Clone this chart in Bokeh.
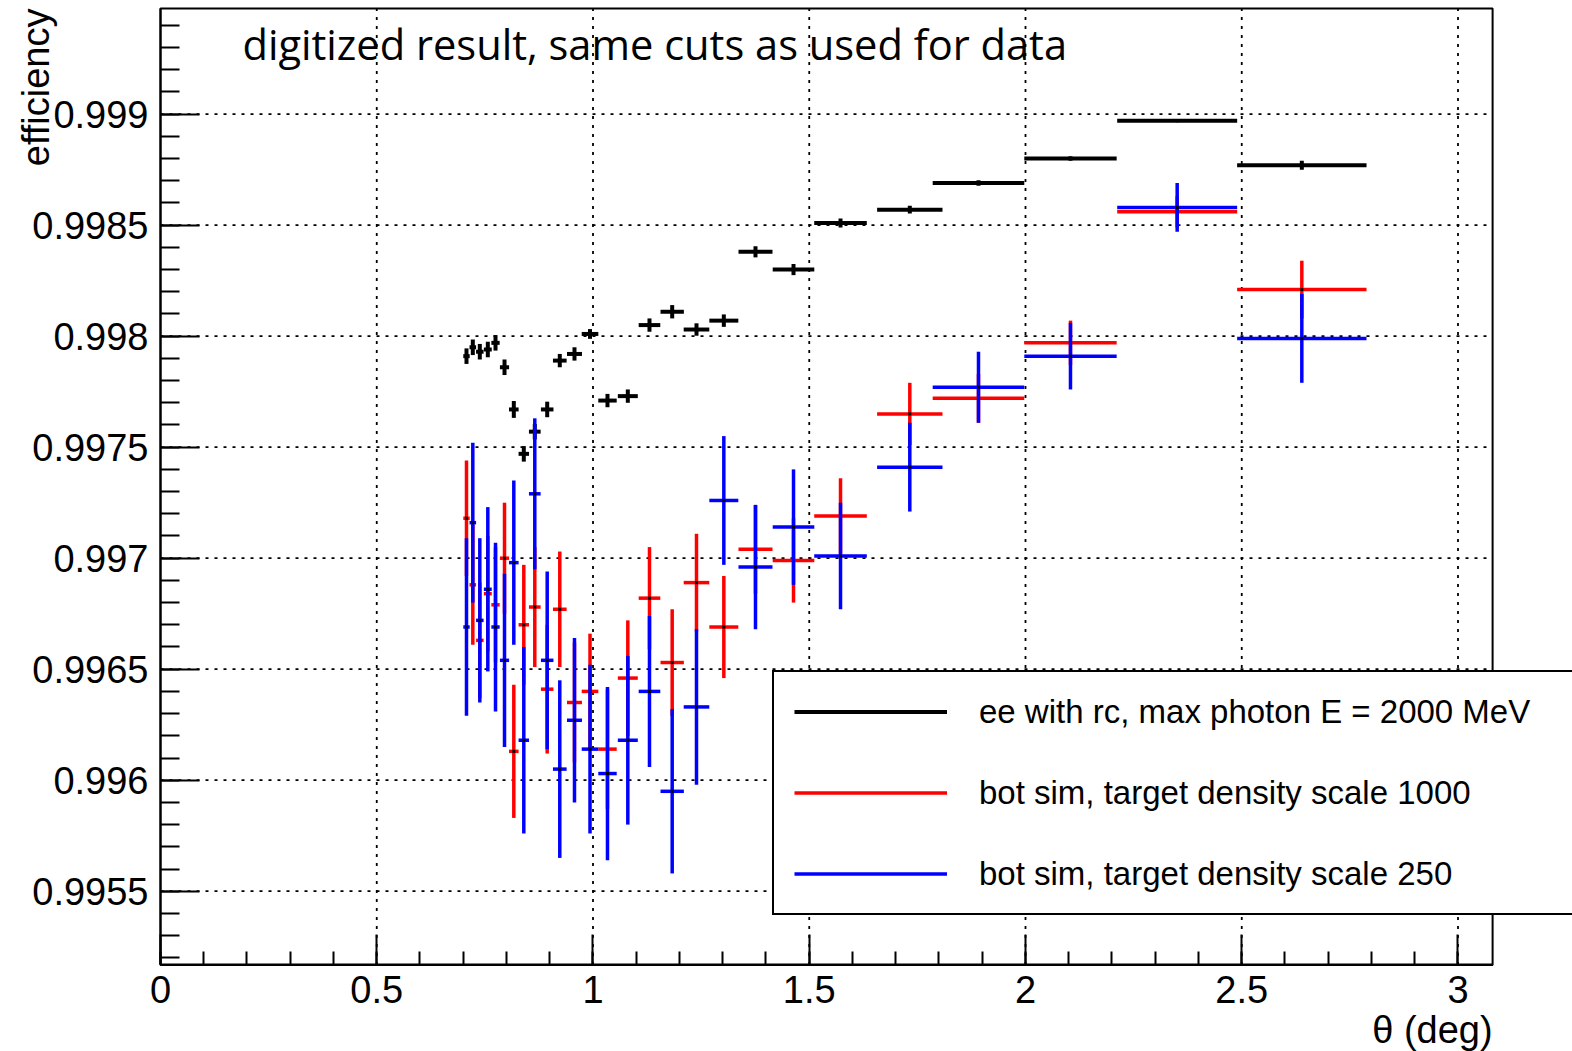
import numpy as np
from bokeh.plotting import figure
from bokeh.models import (ColumnDataSource, Range1d, FixedTicker, Label, Legend, LegendItem,
                          BoxAnnotation)
from bokeh.embed import file_html
from bokeh.resources import INLINE

# ---- data ----
theta = [0.7075, 0.7221, 0.7383, 0.7568, 0.7746, 0.7954, 0.8169, 0.8400, 0.8654,
         0.8941, 0.9232, 0.9572, 0.9931, 1.0335, 1.0805, 1.1306, 1.1831, 1.2393,
         1.3025, 1.3757, 1.4636, 1.5723, 1.7325, 1.8913, 2.1040, 2.3507, 2.6389]
theta_halfwidth = [0.0074, 0.0076, 0.0087, 0.0091, 0.0096, 0.0106, 0.0111, 0.0121, 0.0135,
                   0.0145, 0.0158, 0.0173, 0.0192, 0.0213, 0.0231, 0.0250, 0.0270, 0.0296,
                   0.0335, 0.0393, 0.0481, 0.0608, 0.0756, 0.1059, 0.1068, 0.1387, 0.1496]

eff_ee = [0.99791, 0.99795, 0.99793, 0.99794, 0.99797, 0.99786, 0.99767, 0.99747, 0.99757,
          0.99767, 0.99789, 0.99792, 0.99801, 0.99771, 0.99773, 0.99805, 0.99811, 0.99803,
          0.99807, 0.99838, 0.99830, 0.99851, 0.99857, 0.99869, 0.99880, 0.99897, 0.99877]
err_ee = [0.000035, 0.000035, 0.000035, 0.000035, 0.000035, 0.000035, 0.000038, 0.000035, 0.000035,
          0.000035, 0.000030, 0.000030, 0.000022, 0.000030, 0.000030, 0.000030, 0.000030, 0.000028,
          0.000028, 0.000025, 0.000025, 0.000020, 0.000017, 0.000012, 0.000010, 0.000005, 0.000020]

eff_red = [0.99718, 0.99688, 0.99663, 0.99684, 0.99679, 0.99700, 0.99613, 0.99670, 0.99678,
           0.99641, 0.99677, 0.99635, 0.99640, 0.99614, 0.99646, 0.99682, 0.99653, 0.99689,
           0.99669, 0.99704, 0.99699, 0.99719, 0.99765, 0.99772, 0.99797, 0.99856, 0.99821]
err_red = [0.00026, 0.00027, 0.00026, 0.00026, 0.00026, 0.00025, 0.00030, 0.00027, 0.00027,
           0.00029, 0.00026, 0.00027, 0.00026, 0.00027, 0.00026, 0.00023, 0.00024, 0.00022,
           0.00023, 0.00020, 0.00019, 0.00017, 0.00014, 0.00011, 0.00010, 0.00007, 0.00013]

eff_blue = [0.99669, 0.99716, 0.99672, 0.99686, 0.99669, 0.99654, 0.99698, 0.99618, 0.99729,
            0.99654, 0.99605, 0.99627, 0.99614, 0.99603, 0.99618, 0.99640, 0.99595, 0.99633,
            0.99726, 0.99696, 0.99714, 0.99701, 0.99741, 0.99777, 0.99791, 0.99858, 0.99799]
err_blue = [0.00040, 0.00036, 0.00037, 0.00037, 0.00038, 0.00039, 0.00037, 0.00042, 0.00034,
            0.00040, 0.00040, 0.00037, 0.00038, 0.00039, 0.00038, 0.00034, 0.00037, 0.00035,
            0.00029, 0.00028, 0.00026, 0.00024, 0.00020, 0.00016, 0.00015, 0.00011, 0.00020]

series_labels = ["ee with rc, max photon E = 2000 MeV",
                 "bot sim, target density scale 1000",
                 "bot sim, target density scale 250"]
series_colors = ["black", "#ff0000", "#0000ff"]

x_ticks = [0, 0.5, 1, 1.5, 2, 2.5, 3]
x_tick_labels = ["0", "0.5", "1", "1.5", "2", "2.5", "3"]
y_ticks = [0.9955, 0.996, 0.9965, 0.997, 0.9975, 0.998, 0.9985, 0.999]
y_tick_labels = ["0.9955", "0.996", "0.9965", "0.997", "0.9975", "0.998", "0.9985", "0.999"]

annotation_text = "digitized result, same cuts as used for data"
x_title = "\u03b8 (deg)"
y_title = "efficiency"

# ---- geometry: the frame covers the whole canvas, the plot box is drawn inside ----
W, H = 1572, 1051
VX0, VX1 = -0.36994, 3.26474          # visible x extent (canvas edges)
VY0, VY1 = 0.994778, 0.999512         # visible y extent (canvas edges)
FX0, FX1 = 0.0, 3.08                  # plot box x
FY0, FY1 = 0.995168, 0.999476         # plot box y

p = figure(width=W, height=H, output_backend="svg", toolbar_location=None,
           x_range=Range1d(VX0, VX1), y_range=Range1d(VY0, VY1),
           min_border_left=0, min_border_right=0, min_border_top=0, min_border_bottom=0)
p.background_fill_color = "white"
p.border_fill_color = "white"
p.outline_line_color = None
p.xgrid.visible = False
p.ygrid.visible = False

FONT = "Liberation Sans"

xminor = list(np.round(np.arange(0.0, 3.081, 0.1), 3))
yminor = list(np.round(np.arange(0.9952, 0.99949, 0.0001), 5))
p.xaxis.ticker = FixedTicker(ticks=x_ticks, minor_ticks=xminor)
p.yaxis.ticker = FixedTicker(ticks=y_ticks, minor_ticks=yminor)
p.xaxis.major_label_overrides = {t: l for t, l in zip(x_ticks, x_tick_labels)}
p.yaxis.major_label_overrides = {t: l for t, l in zip(y_ticks, y_tick_labels)}
p.xaxis.fixed_location = FY0
p.yaxis.fixed_location = FX0
p.xaxis.bounds = (FX0, FX1)
p.yaxis.bounds = (FY0, FY1)

for ax in (p.xaxis[0], p.yaxis[0]):
    ax.axis_line_width = 2
    ax.axis_line_color = "black"
    ax.major_tick_line_width = 2
    ax.minor_tick_line_width = 2
    ax.major_tick_line_color = "black"
    ax.minor_tick_line_color = "black"
    ax.major_tick_out = 0
    ax.minor_tick_out = 0
    ax.major_label_text_font = FONT
    ax.major_label_text_font_size = "38px"
    ax.major_label_text_color = "black"

p.yaxis.major_tick_in = 39
p.yaxis.minor_tick_in = 19
p.yaxis.major_label_standoff = 12
p.xaxis.major_tick_in = 30
p.xaxis.minor_tick_in = 13
p.xaxis.major_label_standoff = 11

# ---- dotted grid at the major ticks, inside the plot box ----
gx = [t for t in x_ticks if t > FX0]
p.segment(x0=gx, y0=[FY0] * len(gx), x1=gx, y1=[FY1] * len(gx),
          line_color="black", line_width=1.8, line_dash="3 6")
p.segment(x0=[FX0] * len(y_ticks), y0=y_ticks, x1=[FX1] * len(y_ticks), y1=y_ticks,
          line_color="black", line_width=1.8, line_dash="3 6")

# plot box (top / right borders)
p.add_layout(BoxAnnotation(left=FX0, right=FX1, bottom=FY0, top=FY1,
                           fill_alpha=0.0, fill_color=None,
                           line_color="black", line_alpha=1.0, line_width=2,
                           level="underlay"))

# ---- series ----
def make_source(y, e):
    x = np.array(theta)
    hw = np.array(theta_halfwidth)
    y = np.array(y)
    e = np.array(e)
    return ColumnDataSource(dict(x=x, y=y, x0=x - hw, x1=x + hw, y0=y - e, y1=y + e))

legend_renderers = []
for yv, ev, col, lw in ((eff_ee, err_ee, series_colors[0], 4),
                        (eff_red, err_red, series_colors[1], 3.5),
                        (eff_blue, err_blue, series_colors[2], 3.5)):
    src = make_source(yv, ev)
    rh = p.segment(x0="x0", y0="y", x1="x1", y1="y", source=src,
                   line_color=col, line_width=lw, line_cap="butt")
    p.segment(x0="x", y0="y0", x1="x", y1="y1", source=src,
              line_color=col, line_width=lw, line_cap="butt")
    p.scatter(x="x", y="y", source=src, marker="square", size=3,
              fill_color="black", line_color="black", line_width=0)
    legend_renderers.append(rh)

# ---- texts ----
p.add_layout(Label(x=0.1896, y=0.999318, text=annotation_text, text_font="Open Sans",
                   text_font_size="41.6px", text_baseline="middle", text_align="left",
                   text_color="black"))
p.add_layout(Label(x=FX1, y=0.994875, text=x_title, text_font=FONT,
                   text_font_size="38px", text_baseline="middle", text_align="right",
                   text_color="black"))
p.add_layout(Label(x=-0.289, y=FY1, text=y_title, text_font=FONT, angle=np.pi / 2,
                   text_font_size="38px", text_baseline="middle", text_align="right",
                   text_color="black"))

# ---- legend ----
legend = Legend(items=[LegendItem(label=lab, renderers=[r])
                       for lab, r in zip(series_labels, legend_renderers)],
                location=(772, 136), orientation="vertical",
                glyph_width=153, glyph_height=39, label_height=39, label_width=640,
                label_standoff=32, spacing=42, padding=20, margin=0,
                label_text_font=FONT, label_text_font_size="33px", label_text_color="black",
                border_line_color="black", border_line_width=2, border_line_alpha=1.0,
                background_fill_color="white", background_fill_alpha=1.0)
p.add_layout(legend)

open("out.html", "w").write(file_html(p, INLINE))
